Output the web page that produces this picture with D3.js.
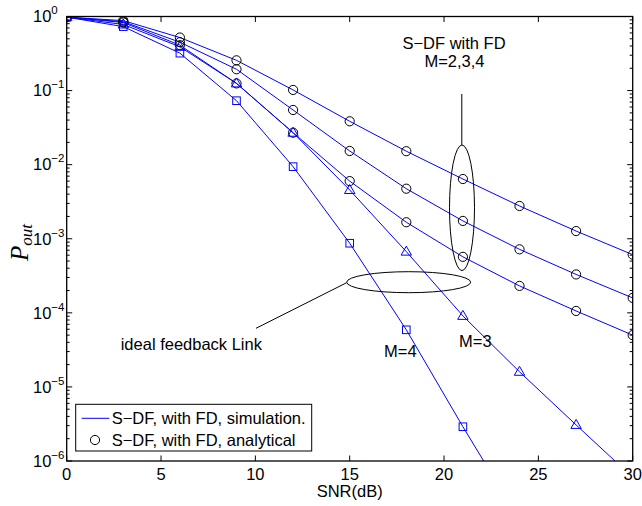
<!DOCTYPE html>
<html>
<head>
<meta charset="utf-8">
<script src="https://cdn.jsdelivr.net/npm/d3@7"></script>
<style>
  html, body { margin: 0; padding: 0; background: #fff; }
  svg { display: block; }
  text { font-family: "Liberation Sans", Arial, Helvetica, sans-serif; fill: #000; }
</style>
</head>
<body>
<svg id="chart" width="642" height="506"></svg>
<script>
// ---------------- data ----------------
const snr = [0, 3, 6, 9, 12, 15, 18, 21, 24, 27, 30];
const fdM2 = [0.98, 0.88, 0.52, 0.256, 0.102, 0.0385, 0.0152, 0.0064, 0.00277, 0.00127, 0.00061];
const fdM3 = [0.98, 0.85, 0.45, 0.194, 0.0547, 0.0153, 0.00474, 0.00174, 0.00072, 0.00033, 0.000159];
const fdM4 = [0.98, 0.83, 0.41, 0.125, 0.027, 0.006, 0.00167, 0.00057, 0.000231, 0.000106, 0.00005];
const idealM3 = [0.98, 0.78, 0.39, 0.125, 0.027, 0.00455, 0.00067, 0.000091, 0.000016, 0.00000307, 0.0000006];
const idealM4 = [0.98, 0.73, 0.32, 0.073, 0.0094, 0.00087, 0.000059, 0.0000029, 0.00000016];
const xTicks = [0, 5, 10, 15, 20, 25, 30];
const yExponents = [0, -1, -2, -3, -4, -5, -6];
const legendLabels = ["S\u2212DF, with FD, simulation.", "S\u2212DF, with FD, analytical"];
const xLabel = "SNR(dB)";

// ---------------- layout ----------------
const svg = d3.select("#chart");
const L = 66.7, R = 632.7, T = 16.5, B = 461;
const x = d3.scaleLinear().domain([0, 30]).range([L, R]);
const y = d3.scaleLog().domain([1e-6, 1]).range([B, T]);
const blue = "#0000ff";
const fs = 16.5;

svg.append("defs").append("clipPath").attr("id", "clip")
  .append("rect").attr("x", L).attr("y", T).attr("width", R - L).attr("height", B - T);

const plot = svg.append("g").attr("clip-path", "url(#clip)");
const line = d3.line().x((d, i) => x(snr[i])).y(d => y(d));

const series = [
  { v: fdM2, m: "circle" },
  { v: fdM3, m: "circle" },
  { v: fdM4, m: "circle" },
  { v: idealM3, m: "triangle" },
  { v: idealM4, m: "square" }
];

series.forEach(s => {
  plot.append("path").attr("d", line(s.v)).attr("fill", "none")
    .attr("stroke", blue).attr("stroke-width", 1);
});

series.forEach(s => {
  const g = plot.append("g");
  s.v.forEach((v, i) => {
    const cx = x(snr[i]), cy = y(v);
    if (s.m === "circle") {
      g.append("circle").attr("cx", cx).attr("cy", cy).attr("r", 4.6)
        .attr("fill", "none").attr("stroke", "#000").attr("stroke-width", 1);
    } else if (s.m === "triangle") {
      g.append("path").attr("d", `M${cx},${cy - 5.5}L${cx + 5.2},${cy + 3.5}L${cx - 5.2},${cy + 3.5}Z`)
        .attr("fill", "none").attr("stroke", blue).attr("stroke-width", 1);
    } else {
      g.append("rect").attr("x", cx - 3.8).attr("y", cy - 3.8).attr("width", 7.6).attr("height", 7.6)
        .attr("fill", "none").attr("stroke", blue).attr("stroke-width", 1);
    }
  });
});

// ---------------- axes ----------------
const axes = svg.append("g");
axes.append("rect").attr("x", L).attr("y", T).attr("width", R - L).attr("height", B - T)
  .attr("fill", "none").attr("stroke", "#000").attr("stroke-width", 1.3);

// x ticks (inward, top & bottom)
xTicks.forEach(t => {
  const px = x(t);
  axes.append("line").attr("x1", px).attr("x2", px).attr("y1", B).attr("y2", B - 5.5).attr("stroke", "#000");
  axes.append("line").attr("x1", px).attr("x2", px).attr("y1", T).attr("y2", T + 5.5).attr("stroke", "#000");
  axes.append("text").attr("x", px).attr("y", 480).attr("text-anchor", "middle")
    .style("font-size", fs + "px").text(t);
});

// y ticks (major + minor, left & right)
yExponents.forEach(e => {
  const base = Math.pow(10, e);
  const py = y(base);
  axes.append("line").attr("x1", L).attr("x2", L + 5.5).attr("y1", py).attr("y2", py).attr("stroke", "#000");
  axes.append("line").attr("x1", R).attr("x2", R - 5.5).attr("y1", py).attr("y2", py).attr("stroke", "#000");
  if (e < 0) {
    for (let k = 2; k <= 9; k++) {
      const my = y(base * k);
      axes.append("line").attr("x1", L).attr("x2", L + 3).attr("y1", my).attr("y2", my).attr("stroke", "#000");
      axes.append("line").attr("x1", R).attr("x2", R - 3).attr("y1", my).attr("y2", my).attr("stroke", "#000");
    }
  }
  const t = axes.append("text").attr("x", 33).attr("y", py + 5.8).style("font-size", fs + "px");
  t.append("tspan").text("10");
  t.append("tspan").attr("dy", -8).style("font-size", "11.5px")
    .text(e === 0 ? "0" : "\u2212" + Math.abs(e));
});

// axis labels
svg.append("text").attr("x", x(15)).attr("y", 497).attr("text-anchor", "middle")
  .style("font-size", fs + "px").text(xLabel);

const yl = svg.append("text").attr("transform", "translate(28,261) rotate(-90)")
  .style("font-family", "'Liberation Serif','Times New Roman',serif").style("font-style", "italic");
yl.append("tspan").style("font-size", "25px").text("P");
yl.append("tspan").attr("dy", 4).style("font-size", "17px").text("out");

// ---------------- annotations ----------------
const ann = svg.append("g");
ann.append("text").attr("x", 454).attr("y", 48.5).attr("text-anchor", "middle")
  .style("font-size", fs + "px").text("S\u2212DF with FD");
ann.append("text").attr("x", 454.5).attr("y", 66.5).attr("text-anchor", "middle")
  .style("font-size", fs + "px").text("M=2,3,4");
ann.append("line").attr("x1", 461.8).attr("x2", 461.8).attr("y1", 94).attr("y2", 145)
  .attr("stroke", "#000").attr("stroke-width", 1);
ann.append("ellipse").attr("cx", 462).attr("cy", 207.8).attr("rx", 12.5).attr("ry", 62.8)
  .attr("fill", "none").attr("stroke", "#000").attr("stroke-width", 1);
ann.append("ellipse").attr("cx", 408.7).attr("cy", 282.2).attr("rx", 62).attr("ry", 10.5)
  .attr("fill", "none").attr("stroke", "#000").attr("stroke-width", 1);
ann.append("line").attr("x1", 346.7).attr("y1", 282.7).attr("x2", 256).attr("y2", 328.3)
  .attr("stroke", "#000").attr("stroke-width", 1);
ann.append("text").attr("x", 120.7).attr("y", 350).style("font-size", fs + "px").text("ideal feedback Link");
ann.append("text").attr("x", 384).attr("y", 356.5).style("font-size", fs + "px").text("M=4");
ann.append("text").attr("x", 459).attr("y", 346.5).style("font-size", fs + "px").text("M=3");

// ---------------- legend ----------------
const lg = svg.append("g");
lg.append("rect").attr("x", 75.7).attr("y", 404.3).attr("width", 236).attr("height", 46.7)
  .attr("fill", "#fff").attr("stroke", "#000").attr("stroke-width", 1);
lg.append("line").attr("x1", 81.7).attr("x2", 109.3).attr("y1", 418.3).attr("y2", 418.3)
  .attr("stroke", blue).attr("stroke-width", 1);
lg.append("text").attr("x", 111.7).attr("y", 424).style("font-size", fs + "px").text(legendLabels[0]);
lg.append("circle").attr("cx", 95).attr("cy", 440).attr("r", 4.6)
  .attr("fill", "none").attr("stroke", "#000").attr("stroke-width", 1);
lg.append("text").attr("x", 111.7).attr("y", 446).style("font-size", fs + "px").text(legendLabels[1]);
</script>
</body>
</html>
